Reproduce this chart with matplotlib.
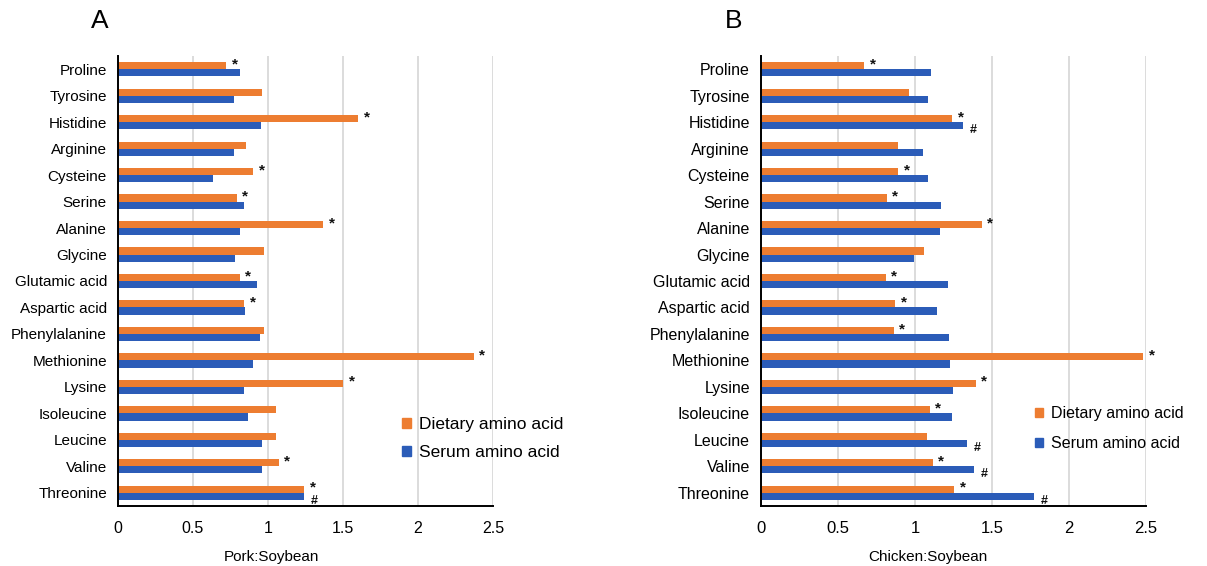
import matplotlib
matplotlib.use("Agg")
import matplotlib.pyplot as plt
from matplotlib.patches import Patch

plt.rcParams['font.family'] = ['Liberation Sans', 'DejaVu Sans']

# amino acids, top to bottom as in the figure
amino = ["Proline", "Tyrosine", "Histidine", "Arginine", "Cysteine", "Serine",
         "Alanine", "Glycine", "Glutamic acid", "Aspartic acid", "Phenylalanine",
         "Methionine", "Lysine", "Isoleucine", "Leucine", "Valine", "Threonine"]

# A: Pork:Soybean
pork_diet = [0.72, 0.96, 1.60, 0.855, 0.90, 0.79, 1.367, 0.973, 0.81, 0.842,
             0.976, 2.37, 1.50, 1.05, 1.05, 1.07, 1.24]
pork_serum = [0.81, 0.77, 0.95, 0.77, 0.63, 0.84, 0.81, 0.78, 0.927, 0.847,
              0.947, 0.90, 0.84, 0.869, 0.96, 0.957, 1.24]
pork_star = ["Proline", "Histidine", "Cysteine", "Serine", "Alanine", "Glutamic acid",
             "Aspartic acid", "Methionine", "Lysine", "Valine", "Threonine"]
pork_hash = ["Threonine"]

# B: Chicken:Soybean
chick_diet = [0.67, 0.96, 1.241, 0.887, 0.891, 0.815, 1.433, 1.061, 0.811, 0.87,
              0.861, 2.483, 1.393, 1.096, 1.078, 1.115, 1.254]
chick_serum = [1.104, 1.083, 1.311, 1.052, 1.087, 1.172, 1.163, 0.991, 1.215, 1.141,
               1.222, 1.228, 1.246, 1.241, 1.339, 1.38, 1.772]
chick_star = ["Proline", "Histidine", "Cysteine", "Serine", "Alanine", "Glutamic acid",
              "Aspartic acid", "Phenylalanine", "Methionine", "Lysine", "Isoleucine",
              "Valine", "Threonine"]
chick_hash = ["Histidine", "Leucine", "Valine", "Threonine"]

orange = "#ED7D31"
blue = "#2B5CB8"

fig = plt.figure(figsize=(12.07, 5.66), dpi=100)
axA = fig.add_axes([118/1207, 60/566, 375/1207, 450/566])
axB = fig.add_axes([761/1207, 60/566, 385/1207, 450/566])


def panel(ax, diet, serum, stars, hashes, xlabel, fs, leg_fs, leg_xy, leg_sp, xlab_x):
    n = len(amino)
    ypos = [n - 1 - i for i in range(n)]
    h = 0.27
    ax.barh([y + h/2 for y in ypos], diet, height=h, color=orange, zorder=3)
    ax.barh([y - h/2 for y in ypos], serum, height=h, color=blue, zorder=3)
    for i, name in enumerate(amino):
        if name in stars:
            ax.annotate("*", (diet[i], ypos[i] + h/2), xytext=(4, 1),
                        textcoords="offset points", ha="left", va="center",
                        fontsize=11, fontweight="bold", color="#111111")
        if name in hashes:
            ax.annotate("#", (serum[i], ypos[i] - h/2), xytext=(5, -3),
                        textcoords="offset points", ha="left", va="center",
                        fontsize=9, fontweight="bold", color="#111111")
    ax.set_xlim(0, 2.5)
    ax.set_ylim(-0.5, n - 0.5)
    ax.set_xticks([0, 0.5, 1, 1.5, 2, 2.5])
    ax.set_xticklabels(["0", "0.5", "1", "1.5", "2", "2.5"])
    ax.set_yticks(ypos)
    ax.set_yticklabels(amino)
    ax.tick_params(axis="x", length=0, pad=11, labelsize=fs + 0.5)
    ax.tick_params(axis="y", length=0, pad=8, labelsize=fs)
    ax.xaxis.grid(True, color="#d9d9d9", linewidth=1.3, zorder=0)
    ax.set_axisbelow(True)
    for s in ["top", "right"]:
        ax.spines[s].set_visible(False)
    for s in ["left", "bottom"]:
        ax.spines[s].set_linewidth(1.4)
        ax.spines[s].set_color("black")
        ax.spines[s].set_zorder(4)
    ax.set_xlabel(xlabel, fontsize=11)
    ax.xaxis.set_label_coords(xlab_x, -0.098)
    handles = [Patch(color=orange, label="Dietary amino acid"),
               Patch(color=blue, label="Serum amino acid")]
    ax.legend(handles=handles, loc="upper left", bbox_to_anchor=leg_xy,
              frameon=False, fontsize=leg_fs, borderpad=0, borderaxespad=0,
              handlelength=0.5, handleheight=0.5, handletextpad=0.5,
              labelspacing=leg_sp)


panel(axA, pork_diet, pork_serum, pork_star, pork_hash, "Pork:Soybean",
      11, 12.5, (0.757, 0.197), 0.72, 0.41)
panel(axB, chick_diet, chick_serum, chick_star, chick_hash, "Chicken:Soybean",
      11.5, 11.5, (0.712, 0.222), 0.92, 0.434)

fig.text(100/1207, 1 - 21/566, "A", fontsize=19, ha="center", va="center")
fig.text(734/1207, 1 - 21/566, "B", fontsize=19, ha="center", va="center")

fig.savefig("out.png", dpi=100)
